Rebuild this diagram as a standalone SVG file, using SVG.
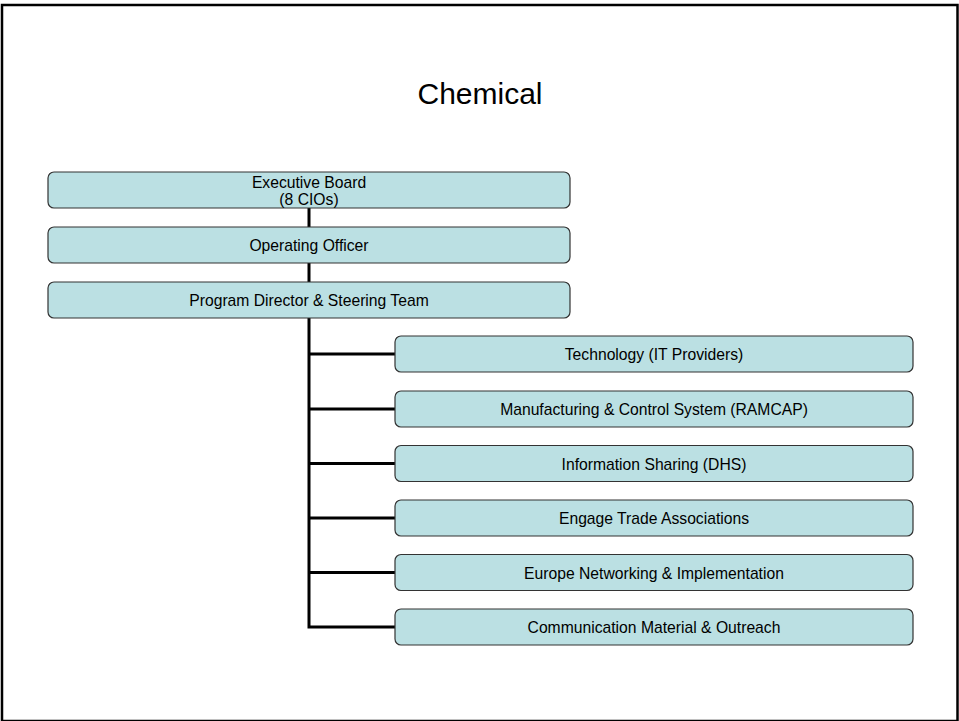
<svg xmlns="http://www.w3.org/2000/svg" width="959" height="721" viewBox="0 0 959 721">
  <style>
    .box { fill: #BBE0E3; stroke: #333333; stroke-width: 1.2; }
    .lbl { font-family: "Liberation Sans", Arial, sans-serif; font-size: 15.7px; fill: #000000; text-anchor: middle; }
    .title { font-family: "Liberation Sans", Arial, sans-serif; font-size: 30px; fill: #000000; text-anchor: middle; }
    .wire { stroke: #000000; stroke-width: 3; fill: none; }
  </style>
  <rect x="0" y="0" width="959" height="721" fill="#ffffff"/>
  <!-- slide frame -->
  <rect x="2" y="5" width="955.5" height="716" fill="none" stroke="#000000" stroke-width="2.5"/>

  <text class="title" x="480" y="104">Chemical</text>

  <!-- connectors -->
  <g id="connectors">
    <line class="wire" x1="309" y1="208" x2="309" y2="227"/>
    <line class="wire" x1="309" y1="263" x2="309" y2="282"/>
    <polyline class="wire" points="309,318 309,627 395,627"/>
    <line class="wire" x1="309" y1="354" x2="395" y2="354"/>
    <line class="wire" x1="309" y1="409" x2="395" y2="409"/>
    <line class="wire" x1="309" y1="463.5" x2="395" y2="463.5"/>
    <line class="wire" x1="309" y1="518" x2="395" y2="518"/>
    <line class="wire" x1="309" y1="572.5" x2="395" y2="572.5"/>
  </g>

  <g id="executive-board">
    <rect class="box" x="48" y="172" width="522" height="36" rx="6"/>
    <text class="lbl" x="309" y="188">Executive Board</text>
    <text class="lbl" x="309" y="205">(8 CIOs)</text>
  </g>
  <g id="operating-officer">
    <rect class="box" x="48" y="227" width="522" height="36" rx="6"/>
    <text class="lbl" x="309" y="251">Operating Officer</text>
  </g>
  <g id="program-director">
    <rect class="box" x="48" y="282" width="522" height="36" rx="6"/>
    <text class="lbl" x="309" y="306">Program Director &amp; Steering Team</text>
  </g>

  <g id="technology">
    <rect class="box" x="395" y="336" width="518" height="36" rx="6"/>
    <text class="lbl" x="654" y="360">Technology (IT Providers)</text>
  </g>
  <g id="manufacturing">
    <rect class="box" x="395" y="391" width="518" height="36" rx="6"/>
    <text class="lbl" x="654" y="415">Manufacturing &amp; Control System (RAMCAP)</text>
  </g>
  <g id="information-sharing">
    <rect class="box" x="395" y="445.5" width="518" height="36" rx="6"/>
    <text class="lbl" x="654" y="469.5">Information Sharing (DHS)</text>
  </g>
  <g id="trade-associations">
    <rect class="box" x="395" y="500" width="518" height="36" rx="6"/>
    <text class="lbl" x="654" y="524">Engage Trade Associations</text>
  </g>
  <g id="europe-networking">
    <rect class="box" x="395" y="554.5" width="518" height="36" rx="6"/>
    <text class="lbl" x="654" y="578.5">Europe Networking &amp; Implementation</text>
  </g>
  <g id="communication">
    <rect class="box" x="395" y="609" width="518" height="36" rx="6"/>
    <text class="lbl" x="654" y="633">Communication Material &amp; Outreach</text>
  </g>
</svg>
